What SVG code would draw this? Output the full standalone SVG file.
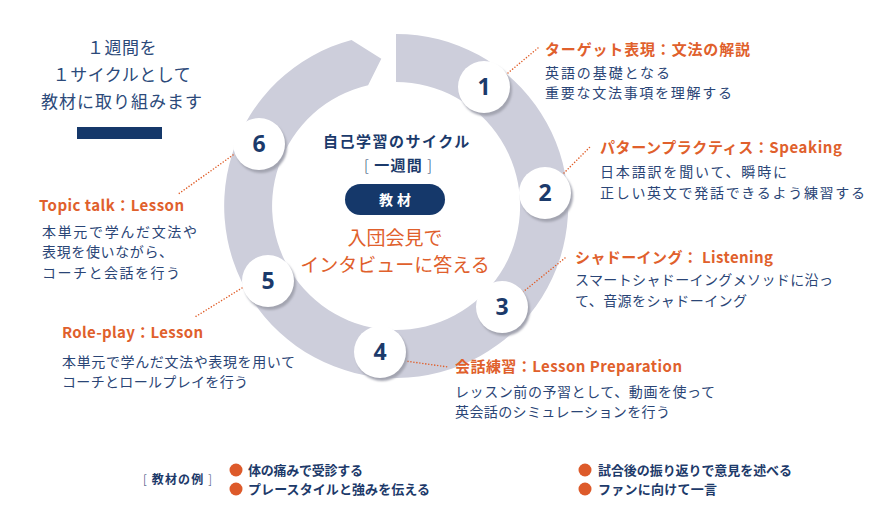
<svg xmlns="http://www.w3.org/2000/svg" width="874" height="510" viewBox="0 0 874 510">
<defs>
<filter id="sh" x="-30%" y="-30%" width="160%" height="160%"><feGaussianBlur stdDeviation="1.2"/></filter>
<style>
text{font-family:"Noto Sans CJK JP","Noto Sans",sans-serif;}
.num{font-size:23px;font-weight:700;fill:#1b3a6b;text-anchor:middle;font-family:"Noto Sans","Noto Sans CJK JP",sans-serif;}
.ttl{font-size:15px;font-weight:700;fill:#e0602c;}
.body{font-size:14px;fill:#2a4576;}
.con{fill:none;stroke:#e0602c;stroke-width:1.6;stroke-linecap:round;stroke-dasharray:0 3;}
.leg{font-size:13px;font-weight:700;fill:#1d3a6a;}
.dot{fill:#dd5a2a;}
</style>
</defs>
<rect width="874" height="510" fill="#ffffff"/>

<g id="ring">
<path d="M396 34 A172 172 0 1 1 351.5 39.9 L381.3 58.7 L368.1 85.2 A124 124 0 1 0 396 82 Z" fill="#cdcedb"/>
</g>

<g id="intro">
<text x="122" y="54" text-anchor="middle" font-size="17" fill="#2c4a7a" letter-spacing="0.5">１週間を</text>
<text x="122" y="81" text-anchor="middle" font-size="17" fill="#2c4a7a" letter-spacing="0.5">１サイクルとして</text>
<text x="122" y="108" text-anchor="middle" font-size="17" fill="#2c4a7a" letter-spacing="1">教材に取り組みます</text>
<rect x="77" y="127" width="85" height="12" fill="#15386a"/>
</g>

<g id="center">
<text x="397" y="147" text-anchor="middle" font-size="15" font-weight="700" fill="#1b3a6b" letter-spacing="1.5">自己学習のサイクル</text>
<text x="364" y="171" font-size="15" fill="#1b3a6b" textLength="68" lengthAdjust="spacing"><tspan font-weight="300">[ </tspan><tspan font-weight="700">一週間</tspan><tspan font-weight="300"> ]</tspan></text>
<rect x="345" y="184" width="100" height="31" rx="15.5" fill="#15386a"/>
<text x="397" y="205" text-anchor="middle" font-size="14" font-weight="700" fill="#ffffff" letter-spacing="4">教材</text>
<text x="395" y="245" text-anchor="middle" font-size="19" fill="#e0602c">入団会見で</text>
<text x="395" y="272" text-anchor="middle" font-size="19" fill="#e0602c">インタビューに答える</text>
</g>

<g id="connectors">
<line class="con" x1="508" y1="73" x2="538" y2="48"/>
<line class="con" x1="564" y1="173" x2="590" y2="147"/>
<line class="con" x1="523" y1="292" x2="565" y2="258"/>
<line class="con" x1="405" y1="361" x2="448" y2="367"/>
<line class="con" x1="242" y1="288" x2="195" y2="317"/>
<line class="con" x1="233" y1="155" x2="177" y2="195"/>
</g>

<g id="step1">
<circle cx="486" cy="90" r="26" fill="#a3a4b0" filter="url(#sh)"/>
<circle cx="484" cy="87" r="26" fill="#ffffff"/>
<text class="num" x="484" y="95">1</text>
<text class="ttl" x="545" y="55" textLength="205" lengthAdjust="spacing">ターゲット表現：文法の解説</text>
<text class="body" x="545" y="78" textLength="125" lengthAdjust="spacing">英語の基礎となる</text>
<text class="body" x="545" y="98" textLength="187" lengthAdjust="spacing">重要な文法事項を理解する</text>
</g>

<g id="step2">
<circle cx="547" cy="196" r="26" fill="#a3a4b0" filter="url(#sh)"/>
<circle cx="545" cy="193" r="26" fill="#ffffff"/>
<text class="num" x="545" y="201">2</text>
<text class="ttl" x="600" y="153" textLength="242" lengthAdjust="spacing">パターンプラクティス：Speaking</text>
<text class="body" x="600" y="177" textLength="187" lengthAdjust="spacing">日本語訳を聞いて、瞬時に</text>
<text class="body" x="600" y="198" textLength="265" lengthAdjust="spacing">正しい英文で発話できるよう練習する</text>
</g>

<g id="step3">
<circle cx="504" cy="310" r="26" fill="#a3a4b0" filter="url(#sh)"/>
<circle cx="502" cy="307" r="26" fill="#ffffff"/>
<text class="num" x="502" y="315">3</text>
<text class="ttl" x="575" y="263" textLength="198" lengthAdjust="spacing">シャドーイング： Listening</text>
<text class="body" x="575" y="285" textLength="258" lengthAdjust="spacing">スマートシャドーイングメソッドに沿っ</text>
<text class="body" x="575" y="306" textLength="172" lengthAdjust="spacing">て、音源をシャドーイング</text>
</g>

<g id="step4">
<circle cx="382" cy="355" r="26" fill="#a3a4b0" filter="url(#sh)"/>
<circle cx="380" cy="352" r="26" fill="#ffffff"/>
<text class="num" x="380" y="360">4</text>
<text class="ttl" x="455" y="372" textLength="227" lengthAdjust="spacing">会話練習：Lesson Preparation</text>
<text class="body" x="455" y="397" textLength="260" lengthAdjust="spacing">レッスン前の予習として、動画を使って</text>
<text class="body" x="455" y="417" textLength="215" lengthAdjust="spacing">英会話のシミュレーションを行う</text>
</g>

<g id="step5">
<circle cx="270" cy="284" r="26" fill="#a3a4b0" filter="url(#sh)"/>
<circle cx="268" cy="281" r="26" fill="#ffffff"/>
<text class="num" x="268" y="289">5</text>
<text class="ttl" x="62" y="338" textLength="141" lengthAdjust="spacing">Role-play：Lesson</text>
<text class="body" x="62" y="367" textLength="233" lengthAdjust="spacing">本単元で学んだ文法や表現を用いて</text>
<text class="body" x="62" y="387" textLength="186" lengthAdjust="spacing">コーチとロールプレイを行う</text>
</g>

<g id="step6">
<circle cx="261" cy="147" r="26" fill="#a3a4b0" filter="url(#sh)"/>
<circle cx="259" cy="144" r="26" fill="#ffffff"/>
<text class="num" x="259" y="152">6</text>
<text class="ttl" x="39" y="211" textLength="145" lengthAdjust="spacing">Topic talk：Lesson</text>
<text class="body" x="42" y="237" textLength="155" lengthAdjust="spacing">本単元で学んだ文法や</text>
<text class="body" x="42" y="257" textLength="131" lengthAdjust="spacing">表現を使いながら、</text>
<text class="body" x="42" y="278" textLength="138" lengthAdjust="spacing">コーチと会話を行う</text>
</g>

<g id="legend">
<text x="143" y="484" font-size="12" fill="#1d3a6a" textLength="69" lengthAdjust="spacing"><tspan font-weight="300">[ </tspan><tspan font-weight="700">教材の例</tspan><tspan font-weight="300"> ]</tspan></text>
<circle class="dot" cx="236" cy="470" r="6.5"/>
<circle class="dot" cx="236" cy="489" r="6.5"/>
<circle class="dot" cx="585" cy="470" r="6.5"/>
<circle class="dot" cx="585" cy="489" r="6.5"/>
<text class="leg" x="248" y="475" textLength="115" lengthAdjust="spacing">体の痛みで受診する</text>
<text class="leg" x="248" y="494" textLength="182" lengthAdjust="spacing">プレースタイルと強みを伝える</text>
<text class="leg" x="598" y="475" textLength="194" lengthAdjust="spacing">試合後の振り返りで意見を述べる</text>
<text class="leg" x="598" y="494" textLength="119" lengthAdjust="spacing">ファンに向けて一言</text>
</g>
</svg>
